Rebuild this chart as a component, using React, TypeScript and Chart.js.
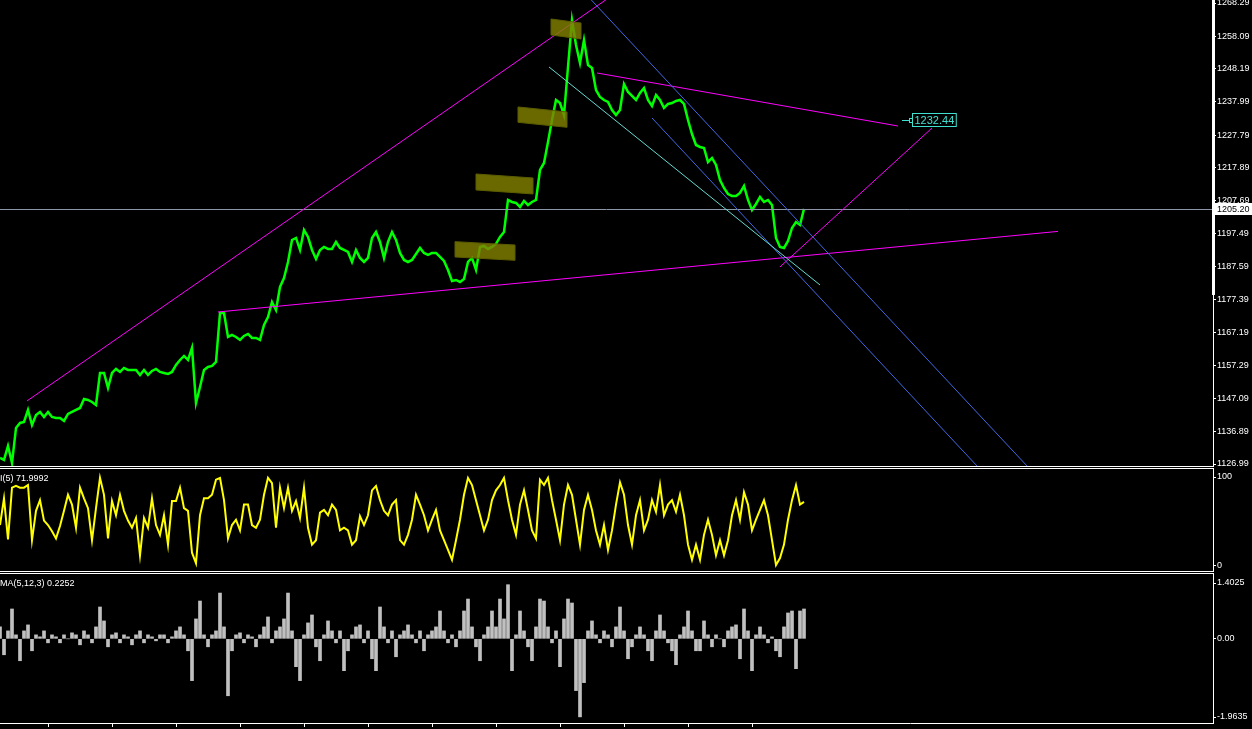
import React, { useEffect, useRef } from 'react';
import { Chart, registerables } from 'chart.js';
Chart.register(...registerables);

// ---- data (one value every time step) ----
const PRICE = [
  1128.85, 1128.23, 1132.52, 1127.31, 1138.04, 1139.57, 1139.88, 1143.56, 1138.96, 1142.03,
  1142.94, 1141.41, 1142.94, 1141.41, 1141.10, 1141.10, 1140.19, 1142.33, 1142.94, 1143.56,
  1144.17, 1146.93, 1146.62, 1146.01, 1145.09, 1154.90, 1154.90, 1150.30, 1154.90, 1156.12,
  1155.20, 1156.43, 1155.82, 1155.82, 1155.82, 1154.28, 1155.82, 1154.28, 1155.51, 1156.12,
  1155.20, 1154.90, 1154.59, 1155.20, 1157.35, 1158.88, 1160.11, 1158.88, 1162.56, 1145.70,
  1150.61, 1155.82, 1156.74, 1157.04, 1158.27, 1173.29, 1173.29, 1165.93, 1166.54, 1165.93,
  1165.01, 1166.24, 1166.85, 1165.62, 1165.62, 1165.01, 1169.61, 1172.06, 1176.66, 1174.21,
  1181.25, 1184.01, 1188.91, 1195.66, 1196.27, 1192.59, 1198.72, 1196.58, 1192.59, 1189.83,
  1192.59, 1193.51, 1192.90, 1192.90, 1195.04, 1193.21, 1192.59, 1191.98, 1188.91, 1192.59,
  1190.14, 1188.91, 1190.14, 1196.27, 1198.11, 1195.04, 1190.14, 1195.04, 1198.11, 1195.66,
  1191.67, 1189.53, 1188.91, 1189.53, 1191.37, 1193.21, 1191.67, 1191.06, 1191.67, 1191.67,
  1190.45, 1189.22, 1186.46, 1183.09, 1183.40, 1182.79, 1183.71, 1188.91, 1190.14, 1186.46,
  1193.51, 1193.82, 1192.90, 1193.51, 1194.43, 1196.58, 1198.11, 1207.92, 1207.30, 1207.00,
  1205.77, 1207.61, 1206.38, 1207.30, 1207.92, 1217.11, 1219.26, 1225.69, 1232.43, 1238.56,
  1237.64, 1233.97, 1248.68, 1263.08, 1255.42, 1249.90, 1256.95, 1249.29, 1248.37, 1241.63,
  1239.48, 1238.56, 1237.95, 1235.50, 1233.97, 1235.50, 1243.47, 1241.01, 1239.79, 1238.56,
  1240.71, 1242.24, 1238.56, 1236.72, 1240.10, 1238.56, 1236.11, 1237.34, 1237.64, 1238.26,
  1238.56, 1237.34, 1232.43, 1228.14, 1224.77, 1224.16, 1223.85, 1219.56, 1220.79, 1218.64,
  1214.05, 1211.59, 1209.75, 1209.14, 1209.14, 1210.06, 1212.21, 1207.92, 1204.85, 1206.69,
  1208.84, 1207.30, 1207.92, 1206.38, 1196.27, 1193.51, 1193.21, 1195.35, 1199.34, 1201.17,
  1200.26, 1205.20,
];

const RSI = [
  46, 76, 30, 88, 90, 88, 88, 91, 29, 62,
  74, 51, 46, 39, 31, 45, 62, 80, 69, 43,
  88, 76, 65, 29, 65, 99, 80, 31, 73, 57,
  80, 62, 51, 43, 54, 12, 54, 43, 76, 46,
  35, 57, 24, 73, 73, 88, 65, 62, 15, 3,
  57, 76, 76, 80, 97, 99, 74, 31, 46, 52,
  40, 69, 69, 46, 43, 52, 80, 99, 93, 43,
  88, 65, 88, 62, 73, 54, 88, 43, 24, 29,
  60, 63, 57, 69, 63, 40, 43, 40, 24, 29,
  56, 46, 57, 85, 90, 74, 62, 57, 69, 74,
  29, 24, 35, 52, 80, 69, 57, 40, 52, 63,
  40, 29, 18, 7, 29, 52, 80, 99, 91, 74,
  57, 40, 52, 74, 85, 91, 99, 74, 52, 35,
  69, 85, 63, 40, 31, 97, 91, 99, 74, 52,
  29, 69, 91, 80, 52, 24, 63, 80, 63, 40,
  24, 46, 18, 40, 69, 94, 80, 46, 24, 57,
  74, 40, 52, 74, 61, 91, 57, 69, 74, 61,
  80, 57, 24, 7, 24, 7, 35, 52, 35, 12,
  29, 12, 29, 57, 74, 52, 83, 69, 40, 52,
  63, 74, 57, 29, 1, 9, 24, 52, 74, 91,
  69, 72,
];

const OSMA = [
  0.3, -0.4, 0.2, 0.75, 0.1, -0.55, 0.2, 0.35, -0.3, 0.1,
  0.05, 0.2, -0.1, 0.1, 0.05, -0.1, 0.1, 0.0, 0.15, 0.1,
  -0.15, 0.2, 0.1, -0.1, 0.3, 0.8, 0.45, -0.2, 0.1, 0.15,
  -0.1, 0.1, 0.05, -0.15, 0.1, 0.2, -0.1, 0.1, 0.05, -0.05,
  0.1, 0.1, -0.1, 0.05, 0.2, 0.3, 0.1, -0.3, -1.05, 0.5,
  0.95, 0.1, -0.2, 0.1, 0.2, 1.15, 0.3, -1.43, -0.3, 0.1,
  0.15, -0.1, 0.1, 0.05, -0.2, 0.1, 0.3, 0.55, -0.1, 0.2,
  0.3, 0.5, 1.15, 0.2, -0.7, -1.05, 0.1, 0.4, 0.6, -0.2,
  -0.55, 0.1, 0.45, 0.2, -0.1, 0.2, -0.8, -0.3, 0.1, 0.3,
  0.35, -0.1, 0.2, -0.5, -0.8, 0.8, 0.3, -0.1, 0.2, -0.45,
  0.1, 0.2, 0.35, 0.1, -0.1, 0.2, -0.3, 0.1, 0.2, 0.3,
  0.7, 0.2, -0.1, 0.1, -0.2, 0.2, 0.7, 1.0, 0.3, -0.2,
  -0.55, 0.1, 0.3, 0.7, 0.3, 1.0, 0.5, 1.36, -0.8, 0.1,
  0.7, 0.2, -0.2, -0.55, 0.3, 1.0, 0.95, 0.3, -0.1, 0.2,
  -0.7, 0.5, 1.0, 0.9, -1.3, -1.96, -1.1, 0.2, 0.45, 0.1,
  -0.1, 0.2, 0.1, -0.2, 0.3, 0.8, 0.2, -0.5, -0.2, 0.1,
  0.3, 0.1, -0.3, -0.55, 0.2, 0.6, 0.2, -0.1, -0.3, -0.65,
  0.1, 0.3, 0.7, 0.2, -0.3, -0.3, 0.45, 0.1, -0.2, 0.1,
  0.0, -0.2, 0.2, 0.3, 0.35, -0.5, 0.75, 0.2, -0.8, 0.1,
  0.3, 0.1, -0.1, 0.05, -0.3, -0.45, 0.3, 0.65, 0.7, -0.75,
  0.7, 0.75,
];

const PRICE_TICKS = [1268.29, 1258.09, 1248.19, 1237.99, 1227.79, 1217.89, 1207.69, 1197.49, 1187.59, 1177.39, 1167.19, 1157.29, 1147.09, 1136.89, 1126.99];
const RSI_TICKS = [100, 0];
const OSMA_TICKS = [1.4025, 0, -1.9635];
const OSMA_TICK_LABELS = ['1.4025', '0.00', '-1.9635'];
const TIME_TICKS = [12, 28, 44, 60, 76, 92, 108, 124, 140, 156, 172, 188];

const BID = 1205.2;
const RSI_TITLE = 'I(5) 71.9992';
const OSMA_TITLE = 'MA(5,12,3) 0.2252';
const PRICE_LABEL = { i: 225.5, p: 1232.44, text: '1232.44' };

// trend objects in (time index, price)
const TRENDLINES = [
  { a: [6.75, 1146.32], b: [155, 1272.27], color: '#ff00ff' },
  { a: [54.5, 1173.59], b: [264.5, 1198.29], color: '#ff00ff' },
  { a: [149.25, 1246.84], b: [224.5, 1230.59], color: '#ff00ff' },
  { a: [195, 1187.4], b: [233, 1229.98], color: '#ff00ff' },
  { a: [145.5, 1272.27], b: [256.75, 1126.39], color: '#4169e1' },
  { a: [163, 1233.05], b: [244.25, 1126.39], color: '#4169e1' },
  { a: [137.25, 1248.68], b: [205, 1181.87], color: '#66d9d0' },
];
// [left index, right index, top price at left, top price at right, thickness]
const BOXES = [
  [113.75, 128.75, 1195.14, 1194.12, 4.7],
  [119, 133.25, 1215.88, 1214.66, 4.9],
  [129.5, 141.75, 1236.42, 1234.89, 4.7],
  [137.75, 145.25, 1263.39, 1262.16, 4.9],
];

const X_MAX = 303.25;
const FONT = { family: 'Liberation Sans', size: 9 };
const AXIS_W = 39;

const xy = (arr: number[]) => arr.map((v, i) => ({ x: i, y: v }));

function yAxis(min: number, max: number, ticks: number[], fmt: (v: number) => string) {
  return {
    position: 'right',
    min,
    max,
    afterBuildTicks: (s: any) => { s.ticks = ticks.map((v) => ({ value: v })); },
    afterFit: (s: any) => { s.width = AXIS_W; s.paddingTop = 0; s.paddingBottom = 0; },
    grid: { display: true, drawOnChartArea: false, drawTicks: true, tickLength: 3, color: '#ffffff' },
    border: { display: true, color: '#ffffff', width: 1 },
    ticks: { color: '#ffffff', font: FONT, padding: 1, callback: (v: any) => fmt(Number(v)) },
  };
}

const hiddenX = { type: 'linear', min: 0, max: X_MAX, display: false, offset: false };

const mainOverlay = {
  id: 'mainOverlay',
  afterDatasetsDraw(chart: any) {
    const { ctx, chartArea: ca, scales } = chart;
    const xs = scales.x, ys = scales.y;
    const px = (i: number) => xs.getPixelForValue(i);
    const py = (p: number) => ys.getPixelForValue(p);
    ctx.save();
    ctx.beginPath();
    ctx.rect(ca.left, ca.top, ca.right - ca.left, ca.bottom - ca.top);
    ctx.clip();
    // bid line
    const by = Math.round(py(BID)) + 0.5;
    ctx.strokeStyle = '#8c96a8';
    ctx.lineWidth = 1;
    ctx.beginPath(); ctx.moveTo(ca.left, by); ctx.lineTo(ca.right, by); ctx.stroke();
    // trend lines
    for (const t of TRENDLINES) {
      ctx.strokeStyle = t.color;
      ctx.lineWidth = 1;
      ctx.beginPath();
      ctx.moveTo(px(t.a[0]), py(t.a[1]));
      ctx.lineTo(px(t.b[0]), py(t.b[1]));
      ctx.stroke();
    }
    // boxes
    for (const b of BOXES) {
      const [il, ir, pl, pr, h] = b;
      ctx.beginPath();
      ctx.moveTo(px(il), py(pl));
      ctx.lineTo(px(ir), py(pr));
      ctx.lineTo(px(ir), py(pr - h));
      ctx.lineTo(px(il), py(pl - h));
      ctx.closePath();
      ctx.fillStyle = 'rgba(128,128,0,0.82)';
      ctx.fill();
      ctx.strokeStyle = '#5c5c00';
      ctx.stroke();
    }
    // price label
    const lx = Math.round(px(PRICE_LABEL.i));
    const ly = Math.round(py(PRICE_LABEL.p));
    ctx.strokeStyle = '#40e0d0';
    ctx.fillStyle = '#40e0d0';
    ctx.beginPath(); ctx.moveTo(lx, ly + 0.5); ctx.lineTo(lx + 8, ly + 0.5); ctx.stroke();
    ctx.strokeRect(lx + 7.5, ly - 1.5, 3, 4);
    ctx.font = '11px "Liberation Sans"';
    const tw = ctx.measureText(PRICE_LABEL.text).width;
    ctx.fillStyle = '#000';
    ctx.fillRect(lx + 10.5, ly - 6.5, tw + 4, 13);
    ctx.strokeRect(lx + 10.5, ly - 6.5, tw + 4, 13);
    ctx.fillStyle = '#40e0d0';
    ctx.textBaseline = 'middle';
    ctx.textAlign = 'left';
    ctx.fillText(PRICE_LABEL.text, lx + 12.5, ly + 0.5);
    ctx.restore();
  },
  afterDraw(chart: any) {
    const { ctx, chartArea: ca, scales } = chart;
    const ys = scales.y;
    ctx.save();
    // scroll thumb on the price scale
    ctx.fillStyle = '#ffffff';
    ctx.fillRect(ca.right - 1, ca.top, 3, ys.getPixelForValue(1178.8) - ca.top);
    // bid label
    const by = Math.round(ys.getPixelForValue(BID));
    ctx.fillStyle = '#ffffff';
    ctx.fillRect(ca.right + 1, by - 6, AXIS_W - 1, 12);
    ctx.fillStyle = '#000000';
    ctx.font = '9px "Liberation Sans"';
    ctx.textBaseline = 'middle';
    ctx.textAlign = 'left';
    ctx.fillText(BID.toFixed(2), ca.right + 4, by + 0.5);
    ctx.restore();
  },
};

const titlePlugin = (text: string, dy: number) => ({
  id: 'title_' + text,
  afterDraw(chart: any) {
    const { ctx, chartArea: ca } = chart;
    ctx.save();
    ctx.fillStyle = '#ffffff';
    ctx.font = '9px "Liberation Sans"';
    ctx.textBaseline = 'middle';
    ctx.textAlign = 'left';
    ctx.fillText(text, 0, ca.top + dy);
    ctx.restore();
  },
});

export default function App() {
  const c1 = useRef<HTMLCanvasElement>(null);
  const c2 = useRef<HTMLCanvasElement>(null);
  const c3 = useRef<HTMLCanvasElement>(null);

  useEffect(() => {
    document.body.style.margin = '0';
    document.body.style.background = '#000';
    const charts: Chart[] = [];
    charts.push(new Chart(c1.current!, {
      type: 'line',
      data: { datasets: [{ data: xy(PRICE), borderColor: '#00ff00', borderWidth: 2.5, pointRadius: 0, tension: 0 }] },
      options: {
        animation: false, responsive: false, devicePixelRatio: 1,
        layout: { padding: 0 },
        plugins: { legend: { display: false }, tooltip: { enabled: false } },
        scales: {
          x: hiddenX as any,
          y: yAxis(1126.38, 1269.21, PRICE_TICKS, (v) => v.toFixed(2)) as any,
        },
      },
      plugins: [mainOverlay],
    }));
    charts.push(new Chart(c2.current!, {
      type: 'line',
      data: { datasets: [{ data: xy(RSI), borderColor: '#ffff00', borderWidth: 2, pointRadius: 0, tension: 0 }] },
      options: {
        animation: false, responsive: false, devicePixelRatio: 1,
        layout: { padding: 0 },
        plugins: { legend: { display: false }, tooltip: { enabled: false } },
        scales: {
          x: hiddenX as any,
          y: yAxis(-5.62, 108.99, RSI_TICKS, (v) => String(Math.round(v))) as any,
        },
      },
      plugins: [titlePlugin(RSI_TITLE, 10)],
    }));
    charts.push(new Chart(c3.current!, {
      type: 'bar',
      data: { datasets: [{ data: xy(OSMA), backgroundColor: '#c0c0c0', barThickness: 3, borderWidth: 0 }] },
      options: {
        animation: false, responsive: false, devicePixelRatio: 1,
        layout: { padding: 0 },
        plugins: { legend: { display: false }, tooltip: { enabled: false } },
        scales: {
          x: {
            type: 'linear', min: 0, max: X_MAX, position: 'bottom', offset: false,
            afterBuildTicks: (s: any) => { s.ticks = TIME_TICKS.map((v) => ({ value: v })); },
            afterFit: (s: any) => { s.height = 6; s.paddingLeft = 0; s.paddingRight = 0; },
            grid: { display: true, offset: false, drawOnChartArea: false, drawTicks: true, tickLength: 4, color: '#ffffff' },
            border: { display: true, color: '#ffffff' },
            ticks: { display: false },
          } as any,
          y: yAxis(-2.1142, 1.6286, OSMA_TICKS, (v) => OSMA_TICK_LABELS[OSMA_TICKS.indexOf(v)] ?? String(v)) as any,
        },
      },
      plugins: [titlePlugin(OSMA_TITLE, 10)],
    }));
    return () => charts.forEach((c) => c.destroy());
  }, []);

  const sep = (top: number) => (
    <div style={{ position: 'absolute', left: 0, top, width: 1214, height: 1, background: '#fff' }} />
  );

  return (
    <div style={{ position: 'fixed', left: 0, top: 0, width: 1252, height: 729, background: '#000', overflow: 'hidden' }}>
      <canvas ref={c1} width={1252} height={466} style={{ position: 'absolute', left: 0, top: 0 }} />
      {sep(466)}
      {sep(468)}
      <canvas ref={c2} width={1252} height={102} style={{ position: 'absolute', left: 0, top: 469 }} />
      {sep(571)}
      {sep(573)}
      <canvas ref={c3} width={1252} height={155} style={{ position: 'absolute', left: 0, top: 574 }} />
    </div>
  );
}
